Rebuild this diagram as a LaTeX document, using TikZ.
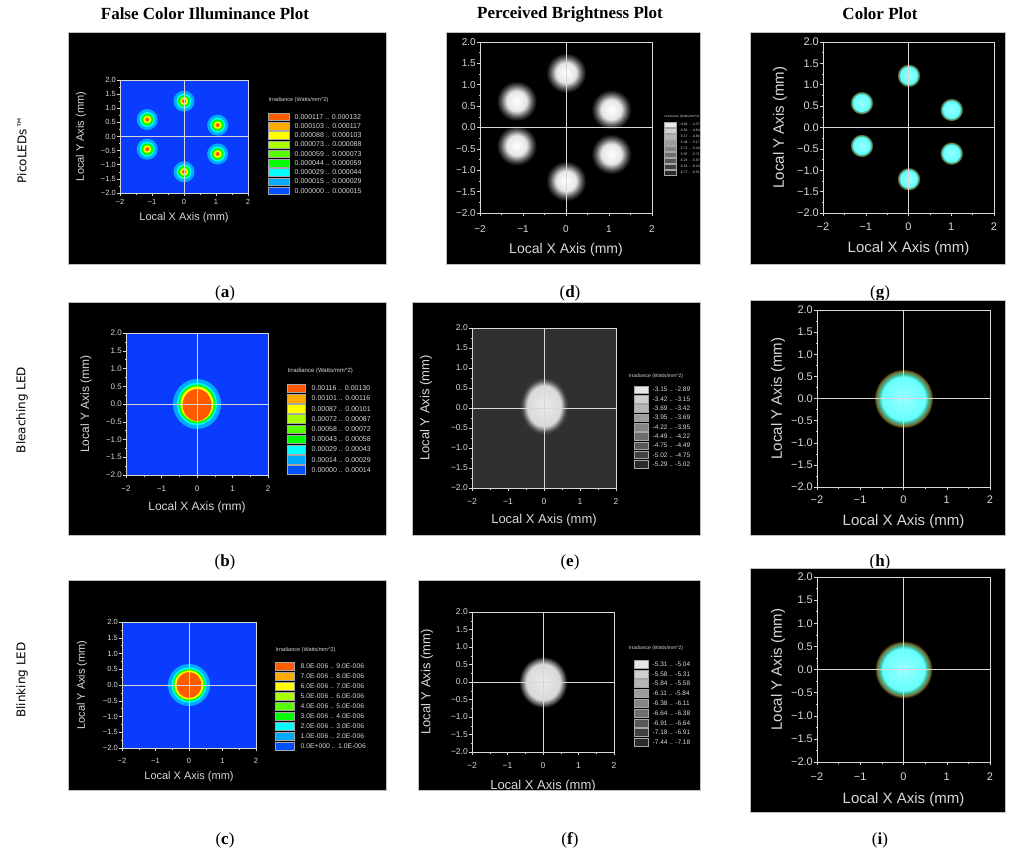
\documentclass[tikz,border=0pt]{standalone}
\usepackage{fontspec}
\setmainfont{Liberation Serif}
\newfontfamily\pf{Liberation Sans}
\newfontfamily\rf{DejaVu Sans}
\definecolor{L1}{HTML}{FF5A00}\definecolor{L2}{HTML}{FFAA00}\definecolor{L3}{HTML}{FFFF00}
\definecolor{L4}{HTML}{AAFF00}\definecolor{L5}{HTML}{55FF00}\definecolor{L6}{HTML}{00FF00}
\definecolor{L7}{HTML}{00FFFF}\definecolor{L8}{HTML}{00AAFF}\definecolor{L9}{HTML}{0050FF}
\definecolor{BG}{HTML}{0A3CFF}
\definecolor{G1}{HTML}{E8E8E8}\definecolor{G2}{HTML}{CFCFCF}\definecolor{G3}{HTML}{B5B5B5}
\definecolor{G4}{HTML}{9C9C9C}\definecolor{G5}{HTML}{858585}\definecolor{G6}{HTML}{6E6E6E}
\definecolor{G7}{HTML}{585858}\definecolor{G8}{HTML}{404040}\definecolor{G9}{HTML}{2A2A2A}
\definecolor{axc}{HTML}{D8D8D8}
\definecolor{olv}{HTML}{7A6A2A}
\definecolor{ebg}{HTML}{303030}
\pgfdeclareradialshading{blob}{\pgfpoint{0bp}{0bp}}{color(0bp)=(white); color(10bp)=(white!90!black); color(16bp)=(gray!60!black); color(20bp)=(black); color(50bp)=(black)}
\pgfdeclareradialshading{blobe}{\pgfpoint{0bp}{0bp}}{color(0bp)=(white!92!black); color(14bp)=(white!85!black); color(18bp)=(gray!60!black); color(20bp)=(ebg); color(50bp)=(ebg)}
\pgfdeclareradialshading{blobf}{\pgfpoint{0bp}{0bp}}{color(0bp)=(white!92!black); color(14bp)=(white!85!black); color(18bp)=(gray!60!black); color(20bp)=(black); color(50bp)=(black)}
\pgfdeclareradialshading{cblob}{\pgfpoint{0bp}{0bp}}{color(0bp)=(white!60!cyan); color(15bp)=(cyan!60!white); color(17bp)=(cyan!50!olv); color(19bp)=(olv); color(20.5bp)=(black); color(50bp)=(black)}
\tikzset{
  panel/.style={fill=black,draw=gray!50,line width=0.6pt},
  ax/.style={draw=axc,line width=0.5pt},
  tk/.style={text=axc,inner sep=1pt},
  coltitle/.style={font=\bfseries\fontsize{17}{17}\selectfont},
  sublab/.style={font=\fontsize{17}{17}\selectfont},
  rowlab/.style={font=\rf\fontsize{12}{12}\selectfont,rotate=90},
  lgtxt/.style={text=axc,inner sep=0.5pt,anchor=west}
}
\newcommand\axes[8]{%
  \pgfmathsetmacro\mx{(#1+#3)/2}\pgfmathsetmacro\my{(#2+#4)/2}
  \draw[ax] (#1,#2) rectangle (#3,#4);
  \draw[ax,line width=0.7pt] (\mx,#2) -- (\mx,#4) (#1,\my) -- (#3,\my);
  \foreach \v/\s [count=\k] in {2/2.0,1.5/1.5,1/1.0,0.5/0.5,0/0.0,-0.5/−0.5,-1/−1.0,-1.5/−1.5,-2/−2.0}{
    \pgfmathsetmacro\yy{#2+(2-\v)*(#4-#2)/4}
    \draw[ax] (#1,\yy) -- ++(-3,0);
    \node[tk,anchor=east,font=\pf\fontsize{#5}{#5}\selectfont] (yl\k) at ({#1-3},\yy) {\s};}
  \foreach \v in {-1.75,-1.25,...,1.8}{
    \pgfmathsetmacro\yy{#2+(2-\v)*(#4-#2)/4}
    \draw[ax] (#1,\yy) -- ++(-1.5,0);}
  \foreach \v/\s [count=\k] in {-2/−2,-1/−1,0/0,1/1,2/2}{
    \pgfmathsetmacro\xx{#1+(\v+2)*(#3-#1)/4}
    \draw[ax] (\xx,#4) -- ++(0,3);
    \node[tk,font=\pf\fontsize{#5}{#5}\selectfont] (xl\k) at (\xx,#6) {\s};}
  \foreach \v in {-1.5,-0.5,0.5,1.5}{
    \pgfmathsetmacro\xx{#1+(\v+2)*(#3-#1)/4}
    \draw[ax] (\xx,#4) -- ++(0,2);}
  \node[tk,font=\pf\fontsize{#7}{#7}\selectfont] (xt) at (\mx,#8) {Local X Axis (mm)};
}
\newcommand\ytitle[3]{\node[tk,rotate=90,font=\pf\fontsize{#3}{#3}\selectfont] (yt) at (#1,#2) {Local Y Axis (mm)};}
\newcommand\lgd[8]{%
  \foreach \lc/\lt [count=\lk] in {#8}{
    \pgfmathsetmacro\ly{#3+(\lk-1)*#4}
    \pgfmathsetmacro\lyb{\ly+#5}
    \pgfmathsetmacro\lym{\ly+#5/2}
    \fill[fill=\lc,draw=gray!70,line width=0.4pt] (#1,\ly) rectangle (#2,\lyb);
    \node[lgtxt,font=\pf\fontsize{#7}{#7}\selectfont] (lg\lk) at (#6,\lym) {\lt};}
}
\newcommand\lgtitle[3]{\node[lgtxt,font=\pf\fontsize{#3}{#3}\selectfont] (lgt) at (#1,#2) {Irradiance (Watts/mm\textasciicircum 2)};}
\newcommand\fspot[2]{%
  \fill[L8] (#1,#2) circle (10.5);
  \fill[L7] (#1,#2) circle (7.5);
  \fill[L6] (#1,#2) circle (6);
  \fill[L3] (#1,#2) circle (4);
  \fill[L1] (#1,#2) circle (2);}
\begin{document}
\begin{tikzpicture}[x=1pt,y=-1pt]
\useasboundingbox (0,0) rectangle (1024,858);
\fill[white] (0,0) rectangle (1024,858);
\node[coltitle] (t1) at (205,14) {False Color Illuminance Plot};
\node[coltitle] (t2) at (570,14) {Perceived Brightness Plot};
\node[coltitle] (t3) at (880,14) {Color Plot};
\node[rowlab] (r1) at (22,150) {PicoLEDs™};
\node[rowlab] (r2) at (22,410) {Bleaching LED};
\node[rowlab] (r3) at (22,680) {Blinking LED};
% ---------------- (a)
\draw[panel] (68,32) rectangle (386,264);
\fill[BG] (120,80) rectangle (248,193);
\foreach \x/\y in {-1.15/0.6,0/1.25,1.05/0.4,-1.15/-0.45,1.05/-0.62,0/-1.25}
  {\pgfmathsetmacro\px{184+32*\x}\pgfmathsetmacro\py{136.5-28.25*\y}\fspot{\px}{\py}}
\axes{120}{80}{248}{193}{7.5}{202}{11}{218}
\ytitle{81}{136.5}{11}
\lgtitle{268}{100}{5.5}
\lgd{268}{289}{113}{9.25}{7.5}{294}{7}{L1/0.000117 .. 0.000132,L2/0.000103 .. 0.000117,L3/0.000088 .. 0.000103,L4/0.000073 .. 0.000088,L5/0.000059 .. 0.000073,L6/0.000044 .. 0.000059,L7/0.000029 .. 0.000044,L8/0.000015 .. 0.000029,L9/0.000000 .. 0.000015}
\node[sublab] (la) at (225,293) {(\textbf{a})};
% ---------------- (d)
\draw[panel] (446,32) rectangle (700,264);
\foreach \x/\y in {-1.15/0.62,0/1.28,1.05/0.42,-1.15/-0.42,1.05/-0.62,0/-1.25}
  {\pgfmathsetmacro\px{566+43*\x}\pgfmathsetmacro\py{127.5-42.75*\y}
   \shade[shading=blob] (\px,\py) circle (25);}
\axes{480}{42}{652}{213}{10}{229}{14}{250}
\lgtitle{664}{117}{3.2}
\lgd{664}{676}{122}{6}{5}{679}{3.5}{G1/-4.64 .. -4.37,G2/-4.91 .. -4.64,G3/-5.17 .. -4.91,G4/-5.44 .. -5.17,G5/-5.71 .. -5.44,G6/-5.97 .. -5.71,G7/-6.24 .. -5.97,G8/-6.51 .. -6.24,G9/-6.77 .. -6.51}
\node[sublab] (ld) at (570,293) {(\textbf{d})};
% ---------------- (g)
\draw[panel] (750,32) rectangle (1005,264);
\foreach \x/\y in {-1.1/0.58,0/1.22,1/0.42,-1.1/-0.42,1/-0.6,0/-1.2}
  {\pgfmathsetmacro\px{908.5+42.75*\x}\pgfmathsetmacro\py{127.5-42.75*\y}
   \shade[shading=cblob] ({\px-14},{\py-14}) rectangle ({\px+14},{\py+14});}
\axes{823}{42}{994}{213}{11}{227}{15}{249}
\ytitle{780}{127.5}{15}
\node[sublab] (lg) at (880,293) {(\textbf{g})};
% ---------------- (b)
\draw[panel] (68,302) rectangle (386,535);
\fill[BG] (126,333) rectangle (268,475);
\fill[L8] (197,404) ellipse (24 and 25);
\fill[L7] (197,404) ellipse (20 and 21);
\fill[L6] (197,404) ellipse (18.5 and 19.5);
\fill[L3] (197,404) ellipse (16.5 and 17.5);
\fill[L1] (197,405) ellipse (14.5 and 16);
\axes{126}{333}{268}{475}{8}{489}{12}{507}
\ytitle{86}{404}{12}
\lgtitle{287}{371}{6}
\lgd{287}{305}{384}{10.2}{8.5}{311}{7}{L1/0.00116 .. 0.00130,L2/0.00101 .. 0.00116,L3/0.00087 .. 0.00101,L4/0.00072 .. 0.00087,L5/0.00058 .. 0.00072,L6/0.00043 .. 0.00058,L7/0.00029 .. 0.00043,L8/0.00014 .. 0.00029,L9/0.00000 .. 0.00014}
\node[sublab] (lb) at (225,562) {(\textbf{b})};
% ---------------- (e)
\draw[panel] (412,302) rectangle (700,535);
\fill[ebg] (472,328) rectangle (616,488);
\shade[shading=blobe] (544,406) ellipse (30 and 36);
\axes{472}{328}{616}{488}{8.5}{502}{13}{520}
\ytitle{426}{408}{13}
\lgtitle{628}{376}{5}
\lgd{634}{648}{386}{9.3}{7.5}{652}{6.5}{G1/-3.15 .. -2.89,G2/-3.42 .. -3.15,G3/-3.69 .. -3.42,G4/-3.95 .. -3.69,G5/-4.22 .. -3.95,G6/-4.49 .. -4.22,G7/-4.75 .. -4.49,G8/-5.02 .. -4.75,G9/-5.29 .. -5.02}
\node[sublab] (le) at (570,562) {(\textbf{e})};
% ---------------- (h)
\draw[panel] (750,300) rectangle (1005,535);
\shade[shading=cblob] (903.5,398.5) circle (36);
\axes{817}{310}{990}{487}{11}{500}{15}{522}
\ytitle{778}{398.5}{15}
\node[sublab] (lh) at (880,562) {(\textbf{h})};
% ---------------- (c)
\draw[panel] (68,580) rectangle (386,790);
\fill[BG] (122,622) rectangle (256,748);
\fill[L8] (189,685) ellipse (21 and 21);
\fill[L7] (189,685) ellipse (17.5 and 17.5);
\fill[L6] (189,685) ellipse (16 and 16);
\fill[L3] (189,685) ellipse (14.5 and 14.5);
\fill[L1] (189,685) ellipse (12.5 and 13);
\axes{122}{622}{256}{748}{7.5}{761}{11}{777}
\ytitle{82}{685}{11}
\lgtitle{275}{650}{5.5}
\lgd{275}{294}{662}{10}{8.5}{300}{6.8}{L1/8.0E-006 .. 9.0E-006,L2/7.0E-006 .. 8.0E-006,L3/6.0E-006 .. 7.0E-006,L4/5.0E-006 .. 6.0E-006,L5/4.0E-006 .. 5.0E-006,L6/3.0E-006 .. 4.0E-006,L7/2.0E-006 .. 3.0E-006,L8/1.0E-006 .. 2.0E-006,L9/0.0E+000 .. 1.0E-006}
\node[sublab] (lc) at (225,840) {(\textbf{c})};
% ---------------- (f)
\draw[panel] (418,580) rectangle (700,790);
\shade[shading=blobf] (543,682) ellipse (30 and 32);
\axes{472}{612}{614}{752}{8.5}{766}{13}{786}
\ytitle{427}{682}{13}
\lgtitle{628}{648}{5}
\lgd{634}{648}{660}{9.8}{8}{652}{6.5}{G1/-5.31 .. -5.04,G2/-5.58 .. -5.31,G3/-5.84 .. -5.58,G4/-6.11 .. -5.84,G5/-6.38 .. -6.11,G6/-6.64 .. -6.38,G7/-6.91 .. -6.64,G8/-7.18 .. -6.91,G9/-7.44 .. -7.18}
\node[sublab] (lf) at (570,840) {(\textbf{f})};
% ---------------- (i)
\draw[panel] (750,568) rectangle (1005,812);
\shade[shading=cblob] (903.5,669.5) circle (35);
\axes{817}{577}{990}{762}{11}{777}{15}{800}
\ytitle{778}{669.5}{15}
\node[sublab] (li) at (880,840) {(\textbf{i})};
\end{tikzpicture}
\end{document}
